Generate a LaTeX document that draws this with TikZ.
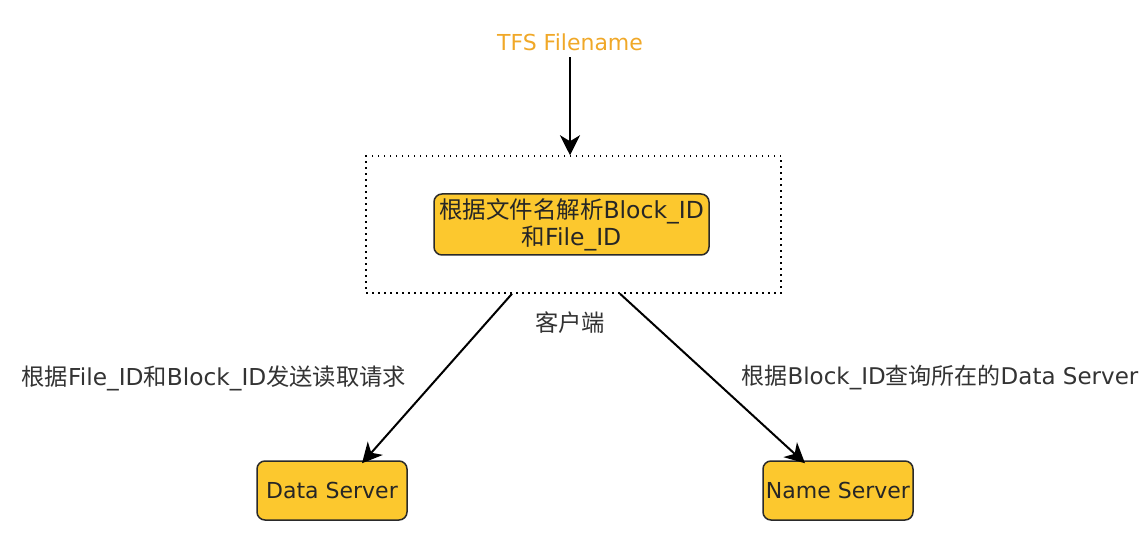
\documentclass[tikz,border=0pt]{standalone}
\usepackage{fontspec}
\setmainfont{DejaVu Sans}
\newfontfamily\cjk{Noto Sans CJK SC}
\usetikzlibrary{arrows.meta,positioning,calc}

\definecolor{boxfill}{HTML}{FCC82E}
\definecolor{fnorange}{HTML}{F0A828}
\definecolor{boxline}{HTML}{2A2A2A}

\tikzset{
  srvbox/.style={draw=boxline, fill=boxfill, rounded corners=8pt, line width=1.5pt,
    text=black!85, inner sep=1pt, font=\fontsize{22}{26}\selectfont},
  lbl/.style={text=black!80, font=\fontsize{23.3}{27}\selectfont},
  conn/.style={draw, line width=2pt, -{Stealth[length=20pt,width=20pt,inset=6pt]}}
}

\begin{document}
\begin{tikzpicture}[x=1pt,y=-1pt]
\useasboundingbox (0,0) rectangle (1146,540);
% nodes
\node[font=\fontsize{22}{26}\selectfont, text=fnorange, inner sep=0pt,
  minimum height=30pt] (tfs) at (570,42) {TFS Filename};
\node[draw, dash pattern=on 1.5pt off 4.5pt, line width=1.5pt,
  minimum width=415pt, minimum height=137pt] (client) at (573.5,224.5) {};
\node[srvbox, align=center, minimum width=275pt, minimum height=61pt,
  font=\fontsize{23.5}{27}\selectfont]
  (parse) at (571.5,224.5) {{\cjk 根据文件名解析}Block\_ID\\{\cjk 和}File\_ID};
\node[lbl] (clientlbl) at (570,323) {\cjk 客户端};
\node[srvbox, minimum width=150pt, minimum height=59pt] (data) at (332,490.5) {Data Server};
\node[srvbox, minimum width=150pt, minimum height=59pt] (name) at (838,490.5) {Name Server};
\node[lbl, anchor=west] (readlbl) at (18,378)
  {{\cjk 根据}File\_ID{\cjk 和}Block\_ID{\cjk 发送读取请求}};
\node[lbl, anchor=west, font=\fontsize{23}{27}\selectfont] (querylbl) at (738,378)
  {{\cjk 根据}Block\_ID{\cjk 查询所在的}Data Server};
% connectors
\path (tfs.south) edge[conn] (tfs.south |- client.north);
\path ([xshift=-61.5pt]client.south) edge[conn] ([xshift=30pt,yshift=-3pt]data.north);
\path ([xshift=46.5pt]client.south) edge[conn] ([xshift=-33pt,yshift=-3pt]name.north);
\end{tikzpicture}
\end{document}
